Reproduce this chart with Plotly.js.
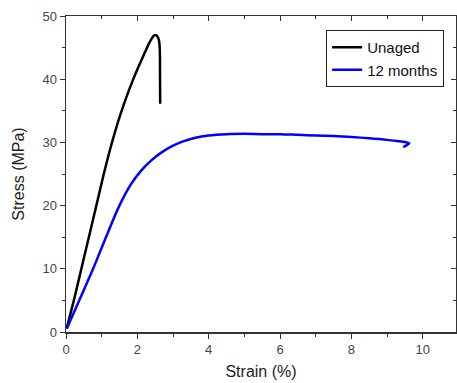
<!DOCTYPE html>
<html>
<head>
<meta charset="utf-8">
<script src="https://cdn.plot.ly/plotly-3.0.1.min.js"></script>
<style>html,body{margin:0;padding:0;background:#fff;}#chart{width:457px;height:383px;}</style>
</head>
<body>
<div id="chart"></div>
<script>
// Unaged sample: strain (%) and stress (MPa)
var unagedStrain = [0.02, 0.22, 0.43, 0.64, 0.85, 1.05, 1.25, 1.45, 1.65, 1.85, 2.05, 2.2, 2.32, 2.41, 2.47, 2.53, 2.58, 2.61, 2.63, 2.635, 2.64];
var unagedStress = [0.6, 5.0, 10.0, 15.0, 20.0, 24.8, 29.2, 33.1, 36.5, 39.5, 42.2, 44.1, 45.6, 46.5, 46.95, 46.95, 46.6, 46.0, 44.5, 40.0, 36.1];
// 12 months aged sample
var agedStrain = [0.02, 0.37, 0.76, 1.12, 1.48, 1.8, 2.1, 2.4, 2.7, 3.0, 3.3, 3.6, 4.0, 4.5, 5.0, 5.5, 6.0, 6.5, 7.0, 7.5, 8.0, 8.5, 9.0, 9.3, 9.5, 9.62, 9.45];
var agedStress = [0.5, 5.0, 10.0, 15.0, 19.8, 23.2, 25.5, 27.2, 28.5, 29.5, 30.2, 30.7, 31.1, 31.3, 31.35, 31.3, 31.3, 31.2, 31.1, 31.0, 30.85, 30.65, 30.4, 30.2, 30.05, 29.85, 29.25];
var seriesNames = ["Unaged", "12 months"];
var xTickVals = [0, 2, 4, 6, 8, 10];
var yTickVals = [0, 10, 20, 30, 40, 50];

var axisColor = "#333";
var tickFont = {family: "Liberation Sans, Arial, sans-serif", size: 13, color: "#444"};
var titleFont = {family: "Liberation Sans, Arial, sans-serif", size: 16, color: "#222"};

var traces = [
  {x: unagedStrain, y: unagedStress, name: seriesNames[0], mode: "lines",
   line: {color: "#000000", width: 2.5, shape: "spline", smoothing: 0.8}},
  {x: agedStrain, y: agedStress, name: seriesNames[1], mode: "lines",
   line: {color: "#0000ff", width: 2.5, shape: "spline", smoothing: 0.8}},
  {x: [], y: [], xaxis: "x2", yaxis: "y2", showlegend: false, hoverinfo: "skip"}
];

var xr = [0, 10.93], yr = [0, 50];
var layout = {
  width: 457, height: 383,
  margin: {l: 66, r: 1, t: 16, b: 51},
  paper_bgcolor: "#fff", plot_bgcolor: "#fff",
  showlegend: true,
  legend: {x: 0.667, y: 0.956, xanchor: "left", yanchor: "top",
    bordercolor: "#222", borderwidth: 1, bgcolor: "#fff",
    font: {family: "Liberation Sans, Arial, sans-serif", size: 15, color: "#111"},
    tracegroupgap: 0, itemwidth: 30},
  xaxis: {range: xr, tickvals: xTickVals, ticks: "outside", ticklen: 5, tickwidth: 1,
    tickcolor: axisColor, showline: true, linecolor: axisColor, linewidth: 1.5,
    showgrid: false, zeroline: false, tickfont: tickFont,
    minor: {dtick: 1, tick0: 0, ticks: "outside", ticklen: 3, tickcolor: axisColor, showgrid: false},
    title: {text: "Strain (%)", font: titleFont, standoff: 9}},
  yaxis: {range: yr, tickvals: yTickVals, ticks: "outside", ticklen: 5, tickwidth: 1,
    tickcolor: axisColor, showline: true, linecolor: axisColor, linewidth: 1.5,
    showgrid: false, zeroline: false, tickfont: tickFont,
    minor: {dtick: 5, tick0: 0, ticks: "outside", ticklen: 3, tickcolor: axisColor, showgrid: false},
    title: {text: "Stress (MPa)", font: titleFont, standoff: 14}},
  xaxis2: {range: xr, overlaying: "x", side: "top", anchor: "y2", tickvals: xTickVals,
    ticks: "inside", ticklen: 5, tickcolor: axisColor, showticklabels: false,
    showline: true, linecolor: axisColor, linewidth: 1.5, showgrid: false, zeroline: false,
    minor: {dtick: 1, tick0: 0, ticks: "inside", ticklen: 3, tickcolor: axisColor, showgrid: false}},
  yaxis2: {range: yr, overlaying: "y", side: "right", anchor: "x2", tickvals: yTickVals,
    ticks: "inside", ticklen: 5, tickcolor: axisColor, showticklabels: false,
    showline: true, linecolor: axisColor, linewidth: 1.5, showgrid: false, zeroline: false,
    minor: {dtick: 5, tick0: 0, ticks: "inside", ticklen: 3, tickcolor: axisColor, showgrid: false}}
};

Plotly.newPlot("chart", traces, layout, {displayModeBar: false, staticPlot: true});
</script>
</body>
</html>
